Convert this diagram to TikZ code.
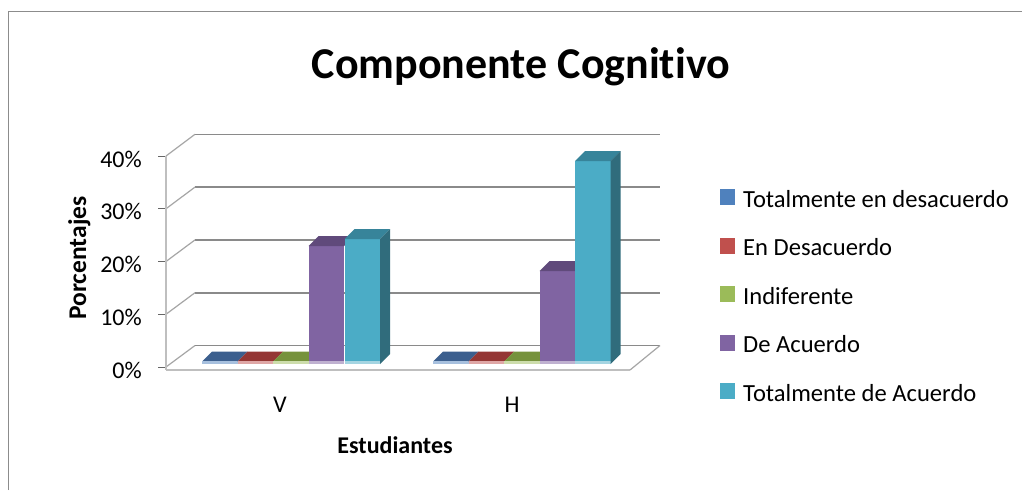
\documentclass[tikz,border=0pt]{standalone}
\usepackage{fontspec}
\setmainfont[Ligatures=NoCommon]{Carlito}
\definecolor{frameC}{HTML}{8C8C8C}
\definecolor{gridC}{HTML}{8A8A8A}
\definecolor{wallC}{HTML}{A6A6A6}
\definecolor{axisC}{HTML}{BFBFBF}
\definecolor{blueF}{HTML}{4F81BD}\definecolor{blueT}{HTML}{3C5F8E}\definecolor{blueL}{HTML}{A7C0DE}
\definecolor{redF}{HTML}{C0504D}\definecolor{redT}{HTML}{943634}\definecolor{redL}{HTML}{DFA7A6}
\definecolor{greenF}{HTML}{9BBB59}\definecolor{greenT}{HTML}{76923C}\definecolor{greenL}{HTML}{CDDDAC}
\definecolor{purpF}{HTML}{8064A2}\definecolor{purpT}{HTML}{604A7B}\definecolor{purpL}{HTML}{BFB1D0}
\definecolor{cyanF}{HTML}{4BACC6}\definecolor{cyanT}{HTML}{37849A}\definecolor{cyanS}{HTML}{306C7C}\definecolor{cyanL}{HTML}{A5D5E2}
\newcommand\chartbar[5]{%
  \fill[#3] (#1,#2) rectangle ({#1+35.5},361);
  \fill[#4] (#1,#2) -- ++(10,-10) -- ++(35.5,0) -- ++(-10,10) -- cycle;
  \fill[#5] (#1,361) rectangle ({#1+35.5},364);
}
\newcommand\chartside[3]{%
  \fill[#3] (#1,#2) -- ++(10,-10) -- ({#1+10},354) -- (#1,364) -- cycle;
}
\begin{document}
\begin{tikzpicture}[x=1pt,y=-1pt,
  gridline/.style={draw=gridC,line width=1.6pt},
  wallline/.style={draw=wallC,line width=1.2pt},
  tickline/.style={draw=gray!80!black,line width=1pt},
  lbl/.style={inner sep=0pt,font=\fontsize{24}{28}\selectfont},
  leglbl/.style={inner sep=0pt,font=\fontsize{24.6}{28}\selectfont},
  axtitle/.style={inner sep=0pt,font=\fontsize{24}{28}\selectfont\bfseries},
  legsq/.style={inner sep=0pt,minimum width=15pt,minimum height=16pt}]
\useasboundingbox (0,0) rectangle (1022,490);
\fill[white] (0,0) rectangle (1022,490);
% outer frame
\coordinate (fbl) at (8.5,490);
\coordinate (ftl) at (8.5,11.5);
\coordinate (ftr) at (1022,11.5);
\draw[frameC,line width=1.2pt] (fbl) -- (ftl) -- (ftr);
% title
\node[inner sep=0pt,anchor=base,font=\fontsize{44}{50}\selectfont\bfseries] (title) at (521,78) {Componente Cognitivo};
% back wall gridlines, side wall diagonals, ticks, labels
\foreach \k/\lab in {0/0\%,1/10\%,2/20\%,3/30\%,4/40\%}{
  \coordinate (f\k) at (166,{367-52.75*\k});
  \coordinate (b\k) at (195,{345.5-52.8*\k});
  \coordinate (e\k) at (660,{345.5-52.8*\k});
  \coordinate (t\k) at (158,{367-52.75*\k});
  \draw[gridline] (b\k) -- (e\k);
  \draw[wallline] (f\k) -- (b\k);
  \draw[tickline] (t\k) -- (f\k);
  \node[lbl,anchor=base east] (y\k) at (142,{378-52.75*\k}) {\lab};
}
% floor edges
\coordinate (flFL) at (166,370);
\coordinate (flFR) at (630,370);
\draw[axisC,line width=2.2pt] (flFL) -- (flFR);
\draw[wallline] (flFR) -- (e0);
% front vertical axis
\coordinate (axT) at (166,156);
\draw[axisC,line width=2.6pt] (axT) -- (flFL);
% bars group V
\chartbar{202}{361.5}{blueF}{blueT}{blueL}
\chartbar{237.5}{361.5}{redF}{redT}{redL}
\chartbar{273}{361.5}{greenF}{greenT}{greenL}
\chartbar{308.5}{246}{purpF}{purpT}{purpL}
\chartbar{344.5}{239}{cyanF}{cyanT}{cyanL}
\chartside{380}{239}{cyanS}
% bars group H
\chartbar{433}{361.5}{blueF}{blueT}{blueL}
\chartbar{468.5}{361.5}{redF}{redT}{redL}
\chartbar{504}{361.5}{greenF}{greenT}{greenL}
\chartbar{539.5}{271}{purpF}{purpT}{purpL}
\chartbar{575}{161}{cyanF}{cyanT}{cyanL}
\chartside{610.5}{161}{cyanS}
% category labels and axis titles
\node[lbl,anchor=base] (catV) at (280,412) {V};
\node[lbl,anchor=base] (catH) at (512,412) {H};
\node[axtitle,anchor=base] (xtitle) at (395,453) {Estudiantes};
\node[axtitle,anchor=base,rotate=90,font=\fontsize{25.5}{28}\selectfont\bfseries] (ytitle) at (86,258) {Porcentajes};
% legend
\foreach \i/\c/\t in {0/blueF/Totalmente en desacuerdo,1/redF/En Desacuerdo,2/greenF/Indiferente,3/purpF/De Acuerdo,4/cyanF/Totalmente de Acuerdo}{
  \node[legsq,fill=\c] (sq\i) at (727.5,{197+48.5*\i}) {};
  \node[leglbl,anchor=base west] (lg\i) at (743,{207+48.5*\i}) {\t};
}
\end{tikzpicture}
\end{document}
